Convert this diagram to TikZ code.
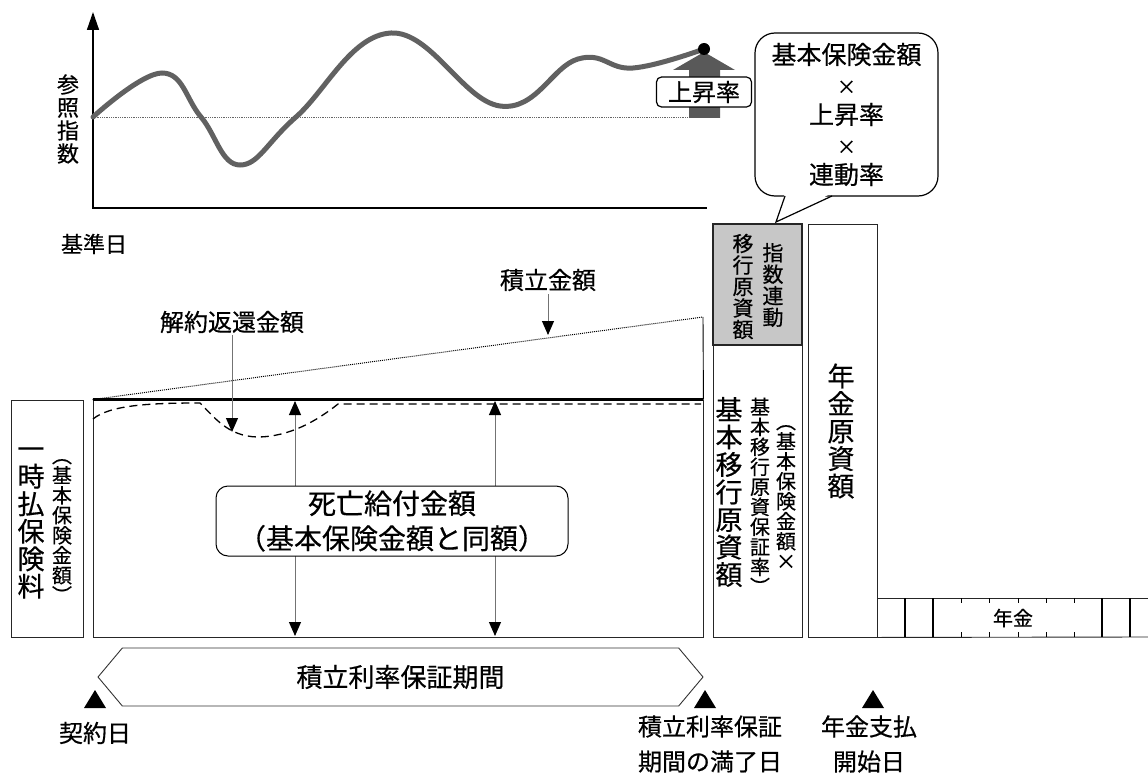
\documentclass[tikz,border=0pt]{standalone}
\usepackage{fontspec}
\setmainfont{Noto Sans CJK JP}[FakeBold=0.5]
\usetikzlibrary{arrows.meta,shapes.symbols}

\begin{document}
\begin{tikzpicture}[x=1pt,y=-1pt]
\tikzset{
base/.style={inner sep=0pt,font=\fontsize{24}{35}\selectfont},
lbl/.style={base,align=center},
vtxt/.style={align=center,inner sep=0pt,font=\fontsize{27}{27.5}\selectfont},
vsmall/.style={align=center,inner sep=0pt,font=\fontsize{20}{20}\selectfont},
box/.style={draw=black!85,line width=0.9,inner sep=0pt},
tip/.style={-{Triangle[width=12,length=14,color=black]}},
slim/.style={tip,draw=black!55,line width=1},
both/.style={draw=black!55,line width=1,{Triangle[width=12,length=14,color=black]}-{Triangle[width=12,length=14,color=black]}}}
\useasboundingbox (0,0) rectangle (1148,773);
% index chart
\draw[line width=1.5,{Triangle[width=12,length=18]}-] (93,12) -- (93,208) -- (707,208);
\draw[black!60,densely dotted,line width=0.8] (93,117) -- (693,117);
\fill[black!65] (689,118) -- (689,70) -- (673,70) -- (704,52) -- (735,70) -- (720,70) -- (720,118) -- cycle;
\draw[line width=5,black!62,line cap=round] plot[smooth,tension=0.7] coordinates {(93,117) (162,73) (201,117) (240,165) (296,117) (391,33) (500,106) (578,59) (633,68) (704,49)};
\fill (704,49) circle[radius=6pt];
\node[base,draw,fill=white,rounded corners=5,line width=1.2,minimum width=95,minimum height=30] (rise) at (704,92) {上昇率};
\node[align=center,inner sep=0pt,font=\fontsize{22}{23}\selectfont] (ref) at (68,119) {参\\照\\指\\数};
\node[inner sep=0pt,font=\fontsize{22}{22}\selectfont] (kijun) at (94,244) {基準日};
% callout
\node[lbl,font=\fontsize{25}{30}\selectfont,draw,fill=white,line width=1.2,rounded corners=20,minimum width=183,minimum height=163] (calc) at (846.5,114.5) {基本保険金額\\{\fontsize{19}{30}\selectfont ×}\\上昇率\\{\fontsize{19}{30}\selectfont ×}\\連動率};
\coordinate (pa) at (785,196);
\coordinate (pb) at (832,196);
\coordinate (ptr) at (776,222);
\fill[white] (785,193) -- (ptr) -- (832,193) -- cycle;
\draw[line width=1.2] (pa) -- (ptr) -- (pb);
% right columns
\node[box,fill=black!22,line width=2,minimum width=89,minimum height=121] (idx) at (757.5,284.5) {};
\node[align=center,inner sep=0pt,font=\fontsize{21}{21.5}\selectfont] (idx1) at (773,285) {指\\数\\連\\動};
\node[align=center,inner sep=0pt,font=\fontsize{21}{21.5}\selectfont] (idx2) at (743,286.5) {移\\行\\原\\資\\額};
\node[box,minimum width=89,minimum height=292] (kihon) at (757.5,491) {};
\node[vtxt] (kihon1) at (729,492) {基\\本\\移\\行\\原\\資\\額};
\node[vsmall] (kihon2) at (786,497) {︵\\基\\本\\保\\険\\金\\額\\×};
\node[vsmall] (kihon3) at (760,496) {基\\本\\移\\行\\原\\資\\保\\証\\率\\︶};
\node[box,minimum width=69,minimum height=413] (nenkin) at (842.5,430.5) {};
\node[vtxt] (nenkin1) at (841,431) {年\\金\\原\\資\\額};
\draw[box] (nenkin.south east) -- (1148,637);
\draw[box] (877,598) -- (1148,598);
\foreach \x in {905,933,1102,1130} \draw[line width=1.6] (\x,598) -- (\x,637);
\foreach \x in {961,989,1018,1046,1074} \draw[line width=0.9] (\x,598) -- ++(0,5) (\x,637) -- ++(0,-5);
\node[inner sep=0pt,font=\fontsize{20}{20}\selectfont] (pay) at (1013,618) {年金};
% premium and account
\node[box,minimum width=72,minimum height=237] (ichiji) at (47,518.5) {};
\node[vtxt] (ichiji1) at (31,523) {一\\時\\払\\保\\険\\料};
\node[vsmall] (ichiji2) at (62,531) {︵\\基\\本\\保\\険\\金\\額\\︶};
\node[box,minimum width=610,minimum height=237] (main) at (398,518.5) {};
\coordinate (acc) at (703,317);
\draw[line width=0.9] (acc) -- (main.north east);
\draw[densely dotted,line width=1] (main.north west) -- (acc);
\draw[line width=2.5] (main.north west) -- (main.north east);
\draw[dash pattern=on 8pt off 5pt,line width=1.3] (93,419) .. controls (110,405) and (150,403) .. (200,403) .. controls (215,418) and (228,436) .. (257,437) .. controls (290,437) and (318,420) .. (338,404) -- (701,404);
\node[lbl] (surr) at (232,322) {解約返還金額};
\coordinate (surrtip) at (232,432);
\draw[slim] ([yshift=-2pt]surr.south) -- (surrtip);
\node[lbl] (accl) at (548,280) {積立金額};
\coordinate (acctip) at (548,335);
\draw[slim] ([yshift=-3pt]accl.south) -- (acctip);
\foreach \x [count=\i] in {295,495} {
  \coordinate (up\i) at (\x,401);
  \coordinate (dn\i) at (\x,636);
  \draw[both] (up\i) -- (dn\i);
}
\node[lbl,font=\fontsize{28}{35}\selectfont,draw,fill=white,rounded corners=12,line width=1,minimum width=352,minimum height=70] (death) at (392,521) {死亡給付金額\\（基本保険金額と同額）};
% timeline
\node[draw=black!80,line width=0.9,shape=signal,signal to=west and east,signal pointer angle=100,minimum width=605,minimum height=58,inner sep=0pt,font=\fontsize{26}{26}\selectfont] (period) at (400.5,677) {積立利率保証期間};
\foreach \x/\n in {95/t1,705/t2,873/t3} \fill (\x,690) coordinate (\n) -- ++(11,18) -- ++(-22,0) -- cycle;
\node[lbl] (start) at (95,733) {契約日};
\node[lbl] (mat) at (710,744) {積立利率保証\\期間の満了日};
\node[lbl] (pstart) at (869,744) {年金支払\\開始日};
\end{tikzpicture}
\end{document}
